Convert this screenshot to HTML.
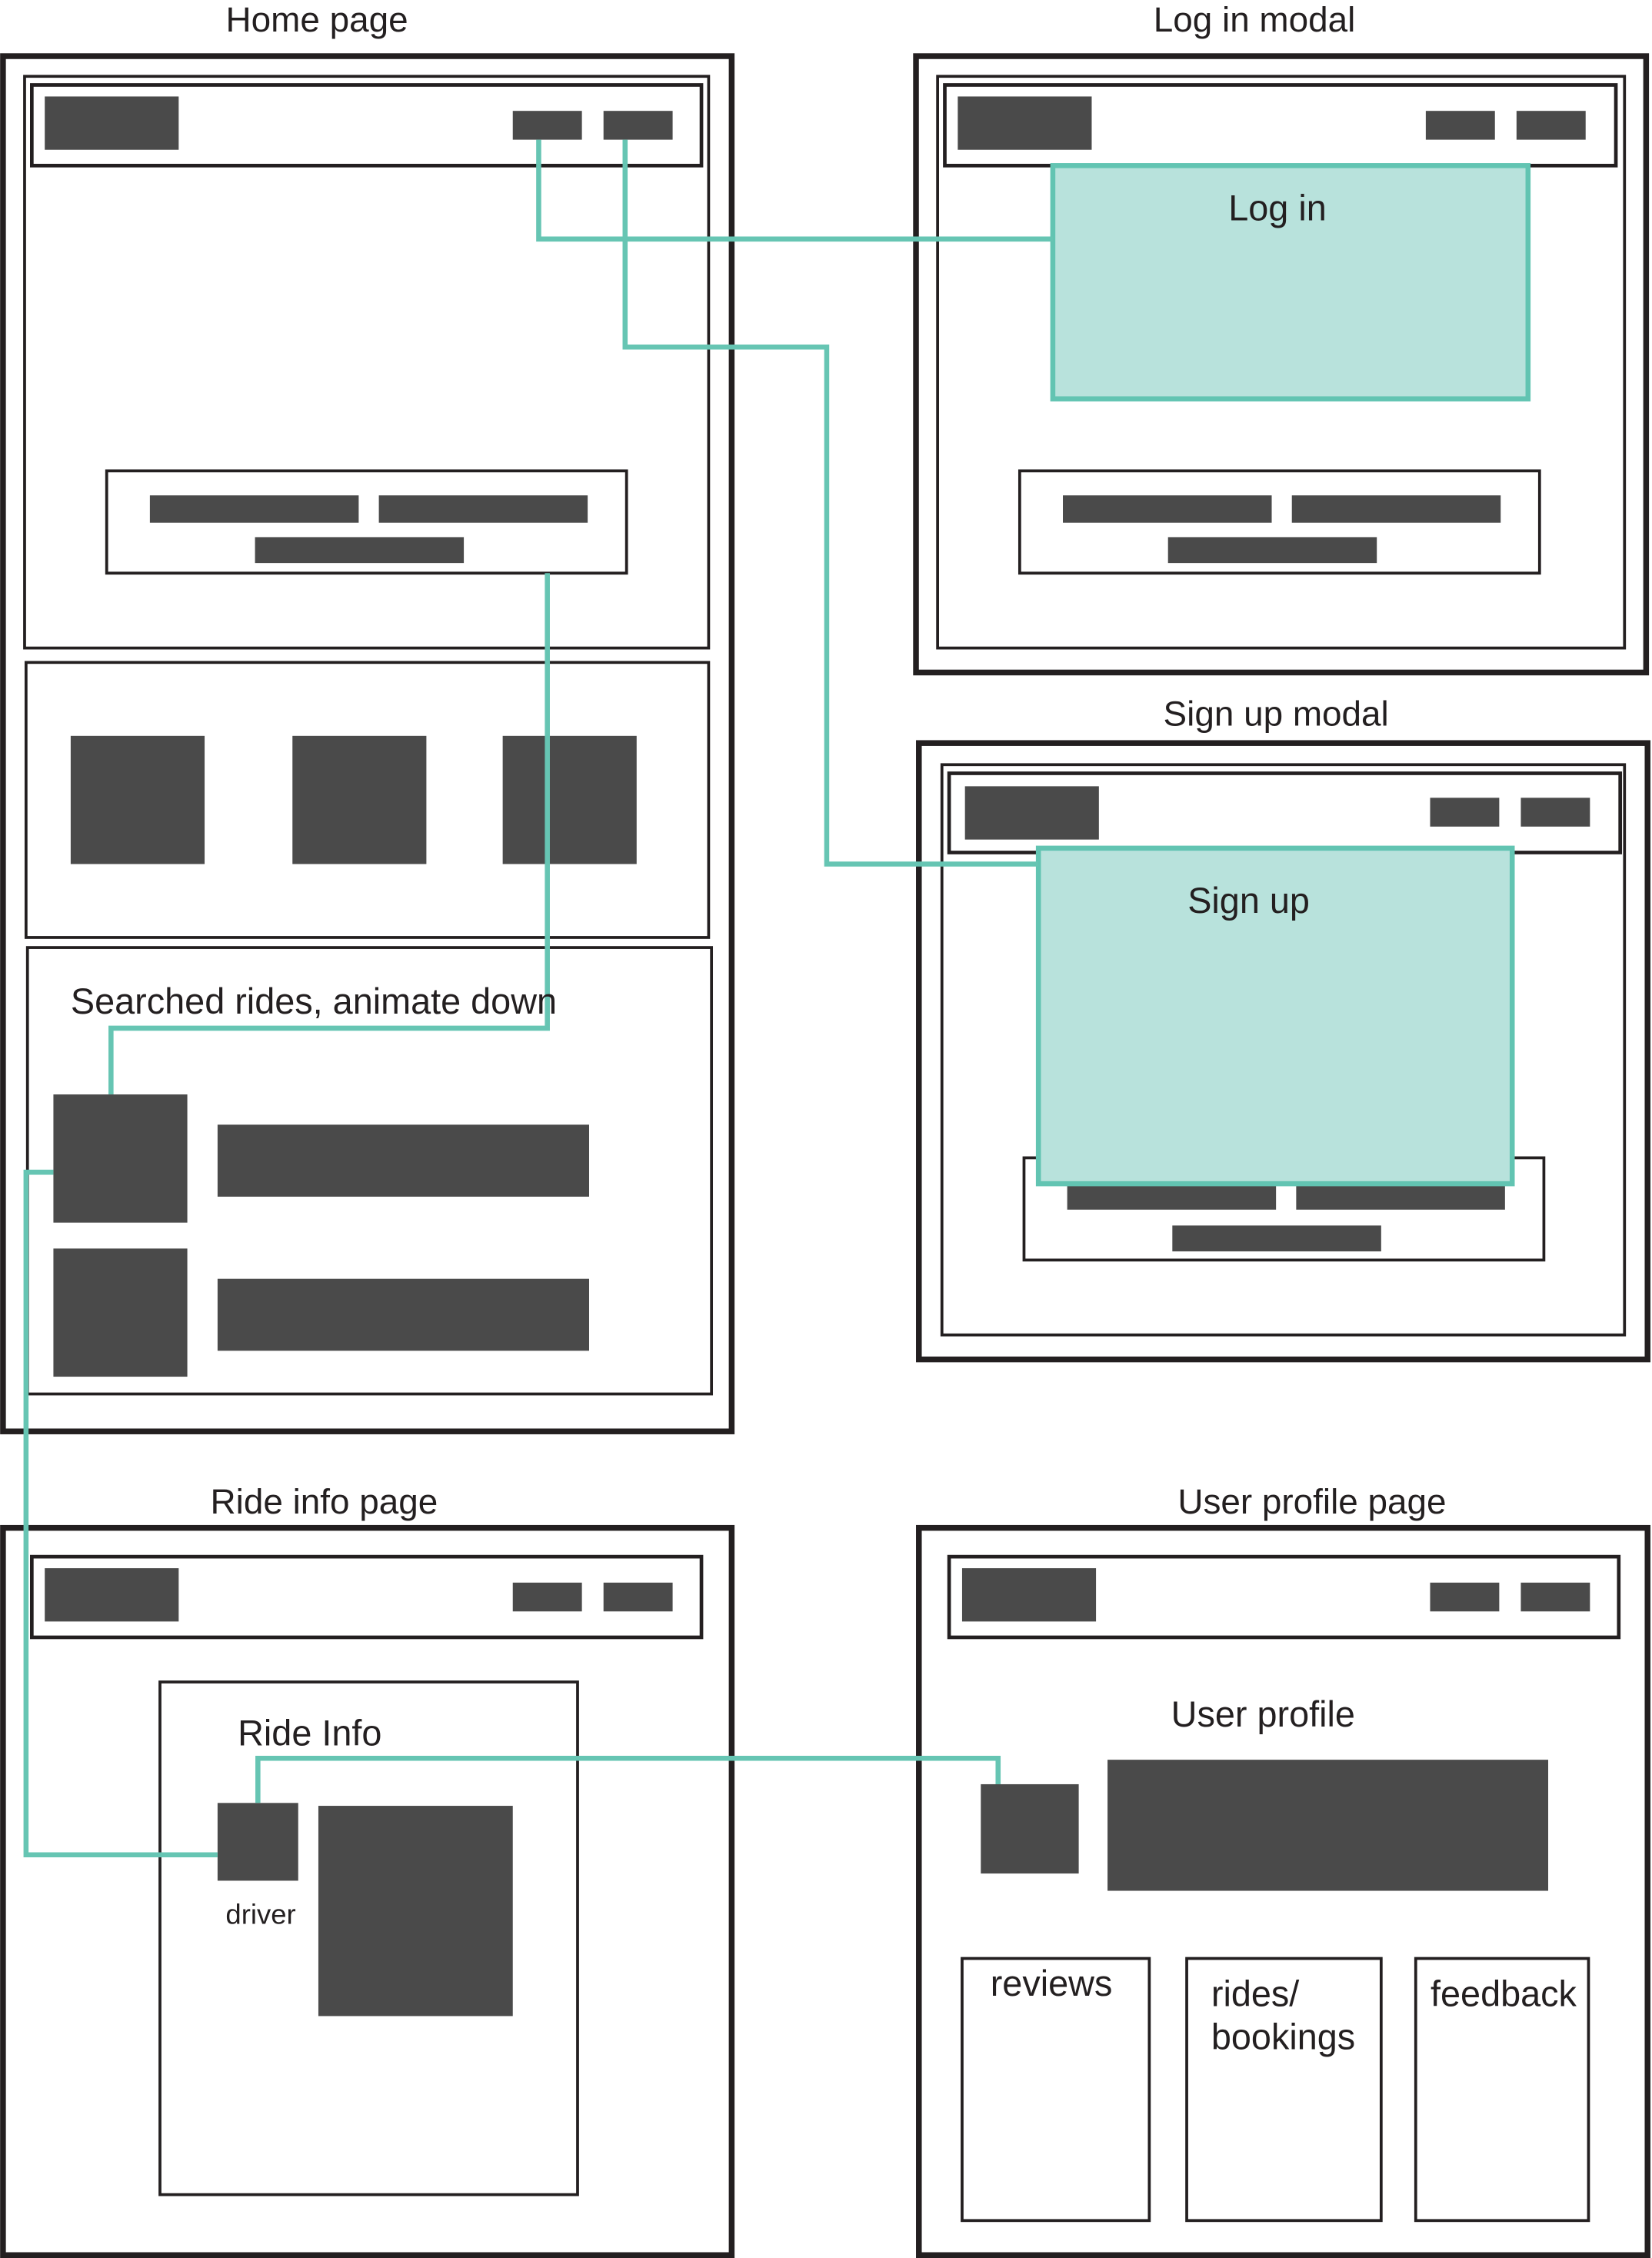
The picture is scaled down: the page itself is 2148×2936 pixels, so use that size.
<!DOCTYPE html>
<html><head><meta charset="utf-8"><style>
html,body{margin:0;padding:0;background:#fff}
svg{display:block}
text{font-family:"Liberation Sans",sans-serif;fill:#231f20}
</style></head><body>
<svg width="2148" height="2936" viewBox="0 0 1147 1568" xmlns="http://www.w3.org/2000/svg">
<g fill="none" stroke="#231f20">
<rect x="2" y="39" width="506" height="955" stroke-width="4"/>
<rect x="17" y="53" width="475" height="397" stroke-width="2"/>
<rect x="22" y="59" width="465" height="56" stroke-width="2.5"/>
<rect x="74" y="327" width="361" height="71" stroke-width="2"/>
<rect x="18" y="460" width="474" height="191" stroke-width="2"/>
<rect x="19" y="658" width="475" height="310" stroke-width="2"/>
<rect x="636" y="39" width="507" height="428" stroke-width="4"/>
<rect x="651" y="53" width="477" height="397" stroke-width="2"/>
<rect x="656" y="59" width="466" height="56" stroke-width="2.5"/>
<rect x="708" y="327" width="361" height="71" stroke-width="2"/>
<rect x="638" y="516" width="506" height="428" stroke-width="4"/>
<rect x="654" y="531" width="474" height="396" stroke-width="2"/>
<rect x="659" y="537" width="466" height="55" stroke-width="2.5"/>
<rect x="711" y="804" width="361" height="71" stroke-width="2"/>
<rect x="2" y="1061" width="506" height="505" stroke-width="4"/>
<rect x="22" y="1081" width="465" height="56" stroke-width="2.5"/>
<rect x="111" y="1168" width="290" height="356" stroke-width="2"/>
<rect x="638" y="1061" width="506" height="505" stroke-width="4"/>
<rect x="659" y="1081" width="465" height="56" stroke-width="2.5"/>
<rect x="668" y="1360" width="130" height="182" stroke-width="2"/>
<rect x="824" y="1360" width="135" height="182" stroke-width="2"/>
<rect x="983" y="1360" width="120" height="182" stroke-width="2"/>
</g>
<g fill="#4a4a4a">
<rect x="31" y="67" width="93" height="37"/><rect x="356" y="77" width="48" height="20"/><rect x="419" y="77" width="48" height="20"/>
<rect x="104" y="344" width="145" height="19"/><rect x="263" y="344" width="145" height="19"/><rect x="177" y="373" width="145" height="18"/>
<rect x="49" y="511" width="93" height="89"/><rect x="203" y="511" width="93" height="89"/><rect x="349" y="511" width="93" height="89"/>
<rect x="37" y="760" width="93" height="89"/><rect x="37" y="867" width="93" height="89"/>
<rect x="151" y="781" width="258" height="50"/><rect x="151" y="888" width="258" height="50"/>
<rect x="665" y="67" width="93" height="37"/><rect x="990" y="77" width="48" height="20"/><rect x="1053" y="77" width="48" height="20"/>
<rect x="738" y="344" width="145" height="19"/><rect x="897" y="344" width="145" height="19"/><rect x="811" y="373" width="145" height="18"/>
<rect x="670" y="546" width="93" height="37"/><rect x="993" y="554" width="48" height="20"/><rect x="1056" y="554" width="48" height="20"/>
<rect x="741" y="821" width="145" height="19"/><rect x="900" y="821" width="145" height="19"/><rect x="814" y="851" width="145" height="18"/>
<rect x="31" y="1089" width="93" height="37"/><rect x="356" y="1099" width="48" height="20"/><rect x="419" y="1099" width="48" height="20"/>
<rect x="151" y="1252" width="56" height="54"/><rect x="221" y="1254" width="135" height="146"/>
<rect x="668" y="1089" width="93" height="37"/><rect x="993" y="1099" width="48" height="20"/><rect x="1056" y="1099" width="48" height="20"/>
<rect x="681" y="1239" width="68" height="62"/><rect x="769" y="1222" width="306" height="91"/>
</g>
<rect x="731" y="115" width="330" height="162" fill="#b8e2dc" stroke="#62c4b2" stroke-width="3.5"/>
<rect x="721" y="589" width="329" height="233" fill="#b8e2dc" stroke="#62c4b2" stroke-width="3.5"/>
<g fill="none" stroke="#66c5b3" stroke-width="3.5">
<polyline points="374,97 374,166 731,166"/>
<polyline points="434,97 434,241 574,241 574,600 721,600"/>
<polyline points="380,398 380,714 77,714 77,760"/>
<polyline points="37,814 18,814 18,1288 151,1288"/>
<polyline points="179,1252 179,1221 693,1221 693,1239"/>
</g>
<g font-size="24.5">
<text x="220" y="22" text-anchor="middle">Home page</text>
<text x="871" y="22" text-anchor="middle">Log in modal</text>
<text x="886" y="504" text-anchor="middle">Sign up modal</text>
<text x="225" y="1051" text-anchor="middle">Ride info page</text>
<text x="911" y="1051" text-anchor="middle">User profile page</text>
</g>
<g font-size="25">
<text x="887" y="153" text-anchor="middle">Log in</text>
<text x="867" y="634" text-anchor="middle">Sign up</text>
<text x="49" y="704">Searched rides, animate down</text>
<text x="165" y="1212">Ride Info</text>
<text x="877" y="1199" text-anchor="middle">User profile</text>
<text x="730" y="1386" text-anchor="middle">reviews</text>
<text x="841" y="1393">rides/</text>
<text x="841" y="1423">bookings</text>
<text x="1044" y="1393" text-anchor="middle">feedback</text>
</g>
<text x="181" y="1336" font-size="19.5" text-anchor="middle">driver</text>
</svg>
</body></html>
